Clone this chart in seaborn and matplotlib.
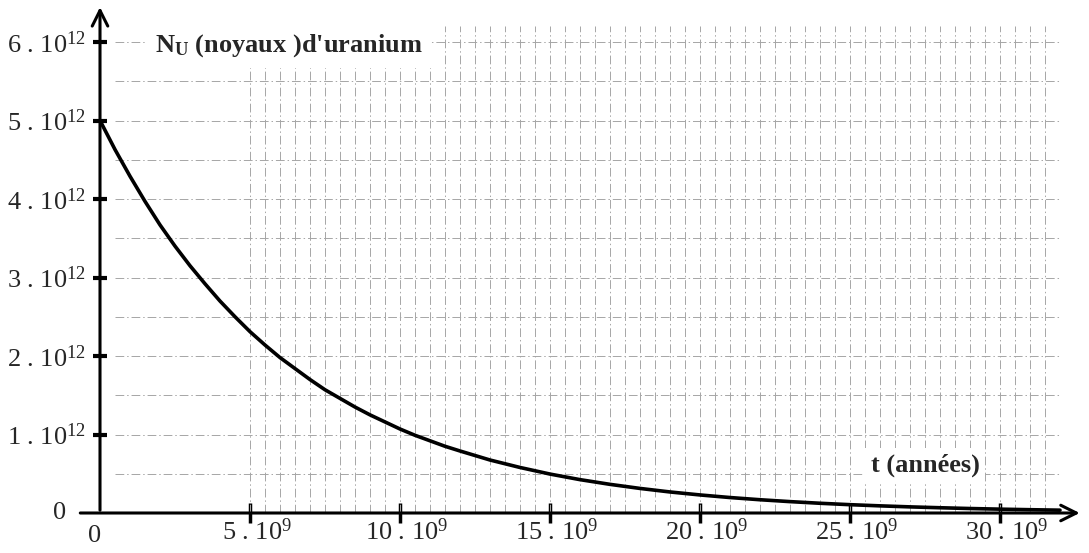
import numpy as np
import pandas as pd
import seaborn as sns
import matplotlib.pyplot as plt
from matplotlib.transforms import ScaledTranslation

# values (t in 10^9 years, N in 10^12 nuclei)
t_gyr = [0, 0.5, 1, 1.5, 2, 2.5, 3, 3.5, 4, 4.5, 5, 5.5, 6, 6.5, 7, 7.5, 8,
         8.5, 9, 9.5, 10, 10.5, 11, 11.5, 12, 13, 14, 15, 16, 17, 18, 19, 20,
         21, 22, 23, 24, 25, 26, 27, 28, 29, 30, 31, 32]
n_1e12 = [5.00, 4.63, 4.29, 3.97, 3.67, 3.40, 3.15, 2.92, 2.70, 2.50, 2.31,
          2.14, 1.98, 1.84, 1.70, 1.57, 1.46, 1.35, 1.25, 1.16, 1.07, 0.99,
          0.92, 0.85, 0.79, 0.675, 0.58, 0.496, 0.425, 0.365, 0.313, 0.268,
          0.23, 0.197, 0.169, 0.145, 0.124, 0.106, 0.091, 0.078, 0.067, 0.057,
          0.049, 0.042, 0.036]

x_ticks = [5, 10, 15, 20, 25, 30]
x_labels = [f"{v} . 10$^{{9}}$" for v in x_ticks]
y_ticks = [1, 2, 3, 4, 5, 6]
y_labels = [f"{v} . 10$^{{12}}$" for v in y_ticks]

sns.set_style("white")
plt.rcParams["font.family"] = ["Liberation Serif", "DejaVu Serif"]
plt.rcParams["mathtext.default"] = "regular"

fig = plt.figure(figsize=(10.89, 5.53), dpi=100)
ax = fig.add_axes([0, 0, 1, 1])
ax.set_xlim(-100 / 30, 989 / 30)
ax.set_ylim(-40 / 78.5, 513 / 78.5)

# faint scanned grid
grid_kw = dict(color="#a6a6a6", lw=0.7, linestyle=(0, (9, 3, 1.5, 3)), zorder=1)
for gy in np.arange(0.5, 6.01, 0.5):
    ax.plot([0.5, 32.0], [gy, gy], **grid_kw)
for gx in np.arange(5.0, 31.6, 0.5):
    ax.plot([gx, gx], [0, 6.2], **grid_kw)

df = pd.DataFrame({"t": t_gyr, "N": n_1e12})
sns.lineplot(data=df, x="t", y="N", color="black", lw=2.6, ax=ax, zorder=4)

# axes with arrows
for s in ax.spines.values():
    s.set_visible(False)
ax.spines["left"].set_position(("data", 0))
ax.spines["bottom"].set_position(("data", 0))
arrow = dict(arrowstyle="->", lw=2.2, color="black", mutation_scale=28)
ax.annotate("", xy=(32.75, 0), xytext=(-0.75, 0), arrowprops=arrow, zorder=5)
ax.annotate("", xy=(0, 6.48), xytext=(0, 0), arrowprops=arrow, zorder=5)

ax.set_xticks(x_ticks, x_labels)
ax.set_yticks(y_ticks, y_labels)
ax.tick_params(axis="x", direction="inout", length=14, width=2.5, color="black",
               labelsize=19, pad=-3, bottom=True)
ax.tick_params(axis="y", direction="inout", length=10, width=3, color="black",
               labelsize=19, pad=5, left=True)
for lab in ax.get_xticklabels():
    lab.set_transform(lab.get_transform() + ScaledTranslation(0.07, 0, fig.dpi_scale_trans))
ax.set_xlabel("")
ax.set_ylabel("")

ax.annotate("0", xy=(0, 0), xytext=(-5, -23), textcoords="offset pixels",
            ha="center", va="center", fontsize=19)
ax.annotate("0", xy=(0, 0), xytext=(-40, 0), textcoords="offset pixels",
            ha="center", va="center", fontsize=19)

ax.text(1.83, 5.95, "N$_{U}$ (noyaux )d'uranium", fontsize=19, fontweight="bold",
        ha="left", va="center", zorder=6,
        bbox=dict(facecolor="white", edgecolor="none", pad=6))
ax.text(25.7, 0.61, "t (années)", fontsize=19, fontweight="bold",
        ha="left", va="center", zorder=6,
        bbox=dict(facecolor="white", edgecolor="none", pad=4))

fig.savefig("out.png", dpi=100)
